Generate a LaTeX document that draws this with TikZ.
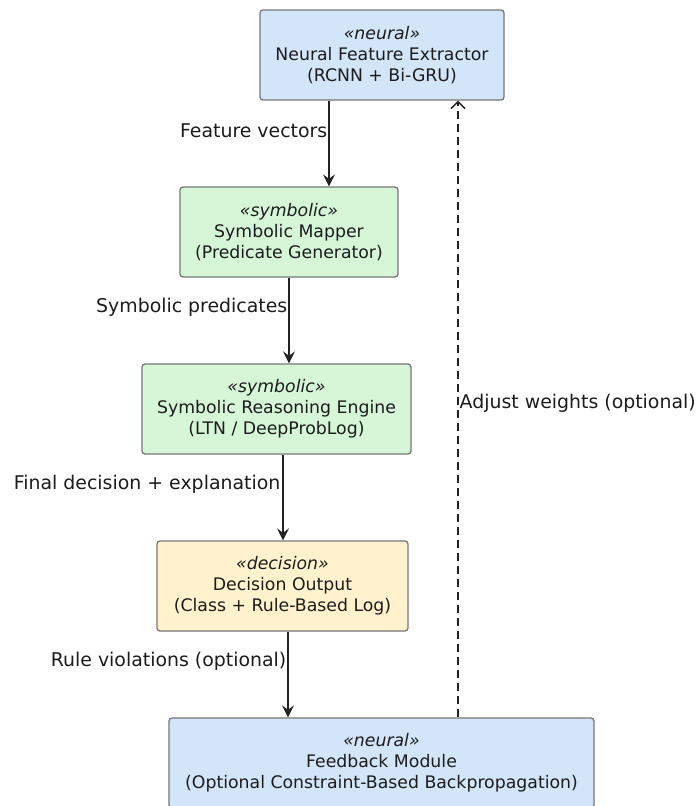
\documentclass[tikz,border=0pt]{standalone}
\usepackage{fontspec}
\setmainfont{DejaVu Sans}
\usetikzlibrary{arrows.meta}
\definecolor{neuralfill}{HTML}{D3E5F8}
\definecolor{symfill}{HTML}{D6F6D8}
\definecolor{decfill}{HTML}{FFF2CC}
\definecolor{boxline}{HTML}{777777}
\definecolor{txt}{HTML}{1C1C1C}
\definecolor{arr}{HTML}{222222}
\tikzset{
  comp/.style={draw=boxline, line width=1.3pt, rounded corners=3pt, align=center,
    inner sep=0pt, text=txt, font=\fontsize{17.3}{21}\selectfont},
  neural/.style={comp, fill=neuralfill},
  symb/.style={comp, fill=symfill},
  deci/.style={comp, fill=decfill},
  flow/.style={draw=arr, line width=1.4pt, -{Stealth[length=12pt,width=12pt,inset=4.5pt]}},
  fb/.style={draw=arr, line width=1.4pt, dash pattern=on 8pt off 5pt, -{Straight Barb[length=7pt,width=14pt]}},
  lbl/.style={text=txt, font=\fontsize{18.9}{21}\selectfont, inner sep=0pt}
}
\newcommand{\stereo}[1]{{\itshape\guillemotleft #1\guillemotright}}
\begin{document}
\begin{tikzpicture}[x=1pt,y=-1pt]
\useasboundingbox[fill=white] (0,0) rectangle (696,806);
\node[neural, minimum width=244pt, minimum height=90pt] (nfe) at (382,55)
  {\stereo{neural}\\Neural Feature Extractor\\(RCNN + Bi-GRU)};
\node[symb, minimum width=218pt, minimum height=90pt] (sm) at (289,232)
  {\stereo{symbolic}\\Symbolic Mapper\\(Predicate Generator)};
\node[symb, minimum width=269pt, minimum height=90pt] (sre) at (276.5,409)
  {\stereo{symbolic}\\Symbolic Reasoning Engine\\(LTN / DeepProbLog)};
\node[deci, minimum width=251pt, minimum height=90pt] (dec) at (282.5,586)
  {\stereo{decision}\\Decision Output\\(Class + Rule-Based Log)};
\node[neural, minimum width=425pt, minimum height=90pt] (fbm) at (381.5,763)
  {\stereo{neural}\\Feedback Module\\(Optional Constraint-Based Backpropagation)};

\draw[flow] (nfe.south -| 329,0) -- node[lbl, anchor=east, pos=0.35, xshift=-1pt] {Feature vectors} (sm.north -| 329,0);
\draw[flow] (sm.south -| 289,0) -- node[lbl, anchor=east, pos=0.35, xshift=-1pt] {Symbolic predicates} (sre.north -| 289,0);
\draw[flow] (sre.south -| 283,0) -- node[lbl, anchor=east, pos=0.35, xshift=-2pt] {Final decision + explanation} (dec.north -| 283,0);
\draw[flow] (dec.south -| 288,0) -- node[lbl, anchor=east, pos=0.35, xshift=-1pt] {Rule violations (optional)} (fbm.north -| 288,0);
\draw[fb] (fbm.north -| 458,0) -- node[lbl, anchor=west, pos=0.51, xshift=1pt] {Adjust weights (optional)} (nfe.south -| 458,0);
\end{tikzpicture}
\end{document}
